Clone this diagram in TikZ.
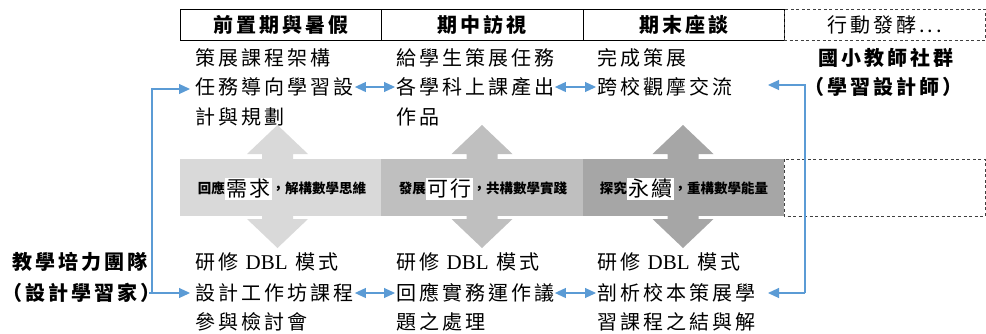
\documentclass[tikz,border=0pt]{standalone}
\usepackage{fontspec}
\setmainfont{Liberation Serif}
\newfontfamily\kai[LetterSpace=15]{Noto Sans CJK TC}
\newfontfamily\kaiband[LetterSpace=8]{Noto Sans CJK TC}
\newfontfamily\kaitight{Noto Sans CJK TC}
\newfontfamily\lat{Liberation Serif}
\usetikzlibrary{arrows.meta}
\definecolor{conn}{HTML}{5B9BD5}
\definecolor{gA}{HTML}{D9D9D9}
\definecolor{gB}{HTML}{BFBFBF}
\definecolor{gC}{HTML}{A6A6A6}
\definecolor{dashgray}{HTML}{404040}
\newcommand\bandsm[1]{{\kaitight\bfseries\fontsize{13.5}{14}\selectfont #1}}
\newcommand\bandbig[1]{\raisebox{-3pt}{\setlength\fboxsep{1.5pt}\colorbox{white}{\kaiband\fontsize{21}{21}\selectfont #1}}}
\newcommand\dbl{{\lat\fontsize{21}{21}\selectfont DBL}}
\begin{document}
\begin{tikzpicture}[x=1pt,y=-1pt,
  txt/.style={inner sep=0pt, anchor=west, font=\kai\fontsize{20}{20}\selectfont},
  lbl/.style={inner sep=0pt, font=\kai\bfseries\fontsize{20}{20}\selectfont},
  hdr/.style={draw=black, line width=1pt, minimum height=31pt, inner sep=0pt,
              font=\kai\bfseries\fontsize{20}{20}\selectfont},
  hdrdash/.style={draw=dashgray, line width=1pt, dash pattern=on 3pt off 2.5pt,
              minimum height=31pt, minimum width=201pt, inner sep=0pt,
              font=\kai\fontsize{20}{20}\selectfont},
  bandtxt/.style={inner sep=0pt},
  link/.style={draw=conn, line width=1.1pt, -{Triangle[length=11pt,width=10pt]}},
  dlink/.style={draw=conn, line width=1.1pt,
              {Triangle[length=11pt,width=10pt]}-{Triangle[length=11pt,width=10pt]}},
  bigarrow/.style={fill=#1, draw=none}
]
\useasboundingbox (0,0) rectangle (986,333);

% header row
\node[hdr, minimum width=201pt] (h1) at (280.5,24.5) {前置期與暑假};
\node[hdr, minimum width=202pt] (h2) at (482,24.5) {期中訪視};
\node[hdr, minimum width=201pt] (h3) at (683.5,24.5) {期末座談};
\node[hdrdash] (h4) at (884.5,24.5) {行動發酵...};

% band
\fill[gA] (180,159) rectangle (381,216);
\fill[gB] (381,159) rectangle (583,216);
\fill[gC] (583,159) rectangle (784,216);
\draw[dashgray, line width=1pt, dash pattern=on 3pt off 2.5pt] (784,159) rectangle (985,216);

% vertical double arrows
\foreach \cx/\col in {277.5/gA, 482/gB, 683/gC}{
  \fill[\col] (\cx,125) -- (\cx+30.5,154) -- (\cx+15.5,154) -- (\cx+15.5,219)
    -- (\cx+30.5,219) -- (\cx,248) -- (\cx-30.5,219) -- (\cx-15.5,219)
    -- (\cx-15.5,154) -- (\cx-30.5,154) -- cycle;
}

% band texts
\node[bandtxt] (b1) at (282,189) {\bandsm{回應}\bandbig{需求}\bandsm{，解構數學思維}};
\node[bandtxt] (b2) at (483,189) {\bandsm{發展}\bandbig{可行}\bandsm{，共構數學實踐}};
\node[bandtxt] (b3) at (684,189) {\bandsm{探究}\bandbig{永續}\bandsm{，重構數學能量}};

% upper texts
\node[txt] (t1a) at (195,58) {策展課程架構};
\node[txt] (t1b) at (195,87) {任務導向學習設};
\node[txt] (t1c) at (195,117) {計與規劃};
\node[txt] (t2a) at (396,58) {給學生策展任務};
\node[txt] (t2b) at (396,87) {各學科上課產出};
\node[txt] (t2c) at (396,117) {作品};
\node[txt] (t3a) at (597,58) {完成策展};
\node[txt] (t3b) at (597,87) {跨校觀摩交流};

% lower texts
\node[txt] (u1a) at (195,262) {研修 \dbl{} 模式};
\node[txt] (u1b) at (195,293) {設計工作坊課程};
\node[txt] (u1c) at (195,322) {參與檢討會};
\node[txt] (u2a) at (396,262) {研修 \dbl{} 模式};
\node[txt] (u2b) at (396,293) {回應實務運作議};
\node[txt] (u2c) at (396,322) {題之處理};
\node[txt] (u3a) at (597,262) {研修 \dbl{} 模式};
\node[txt] (u3b) at (597,293) {剖析校本策展學};
\node[txt] (u3c) at (597,322) {習課程之結與解};

% side labels
\node[lbl] (l1) at (80,262) {教學培力團隊};
\node[lbl] (l2) at (81,293) {（設計學習家）};
\node[lbl] (r1) at (886,58) {國小教師社群};
\node[lbl] (r2) at (883,87) {（學習設計師）};

% connectors
\draw[dlink, shorten <=1.5pt, shorten >=1pt] (t1b.east) -- (t2b.west);
\draw[dlink, shorten <=0.5pt, shorten >=1pt] (t2b.east) -- (t3b.west);
\draw[dlink, shorten <=1.5pt, shorten >=1pt] (u1b.east) -- (u2b.west);
\draw[dlink, shorten <=0.5pt, shorten >=1pt] (u2b.east) -- (u3b.west);

\coordinate (lv) at (152,293);
\draw[link, shorten >=5pt] (lv) |- ([yshift=-2pt]t1b.west);
\draw[link, shorten >=5pt] ([xshift=-11pt]l2.east) -- (u1b.west);

\coordinate (rv) at (805,293);
\coordinate (rt) at (768,85);
\coordinate (rb) at (768,293);
\draw[link] (rv) |- (rt);
\draw[link] (rv) -- (rb);
\end{tikzpicture}
\end{document}
